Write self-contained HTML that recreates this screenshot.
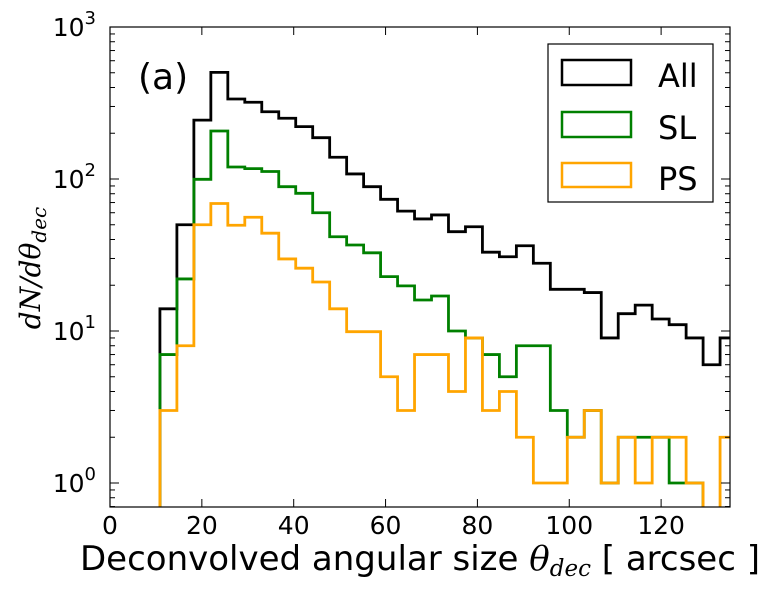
<!DOCTYPE html>
<html><head><meta charset="utf-8"><style>
body{margin:0;background:#fff;}
svg{display:block;font-family:"DejaVu Sans","Liberation Sans",sans-serif;}
</style></head><body>
<svg id="chart" width="771" height="591" viewBox="0 0 771 591">
<defs><clipPath id="plotclip"><rect x="110" y="27" width="620" height="480"/></clipPath></defs>
<rect x="0" y="0" width="771" height="591" fill="#fff"/>
<g id="series" clip-path="url(#plotclip)"></g>
<rect x="110" y="27" width="620" height="480" fill="none" stroke="#000" stroke-width="1.2"/>
<g id="ticks"></g>
<text x="138" y="89" font-size="36">(a)</text>
<g>
<rect x="548" y="44" width="165" height="158" fill="#fff" stroke="#000" stroke-width="1.2"/>
<rect x="562" y="60" width="69" height="25" fill="none" stroke="#000" stroke-width="2.5"/>
<text x="658" y="87" font-size="32">All</text>
<rect x="562" y="112" width="69" height="25" fill="none" stroke="#008000" stroke-width="2.5"/>
<text x="658" y="139" font-size="32">SL</text>
<rect x="562" y="163" width="69" height="24" fill="none" stroke="#FFA500" stroke-width="2.5"/>
<text x="658" y="190" font-size="32">PS</text>
</g>
<text x="420" y="570" font-size="34" text-anchor="middle">Deconvolved angular size <tspan font-family="'DejaVu Serif',serif" font-style="italic">θ</tspan><tspan font-family="'DejaVu Serif',serif" font-style="italic" font-size="23" dy="6">dec</tspan><tspan dy="-6"> [ arcsec ]</tspan></text>
<text transform="translate(40,268) rotate(-90)" font-size="28" text-anchor="middle" font-family="'DejaVu Serif',serif" font-style="italic">dN/dθ<tspan font-size="20" dy="6">dec</tspan></text>
</svg>
<script>
const binStart = 10.87;
const binWidth = 3.696;
const allCounts = [14,50,244,503,336,320,277,251,221,187,139,108,89,73.5,61.5,54.6,58,45,48.5,33,30.8,36.4,27.9,18.8,18.8,17.9,9,13,14.8,12,11,9,6,9];
const slCounts  = [7,22,99.5,207,120,117,112,89,80.5,60,41.7,36.8,32.7,22.8,19.8,16,17,10,9,7,5,8,8,3,2,3,1,2,2,2,1,1,0,0];
const psCounts  = [3,8,50,69,49.6,56,44,29.8,25.9,21,14,9.9,9.9,5,3,7,7,4,9,3,4,2,1,1,2,3,1,2,1,2,2,1,0,2];
const xTicks = [0,20,40,60,80,100,120];
const yTickExps = [0,1,2,3];

const NS = "http://www.w3.org/2000/svg";
function xs(v){return 110 + v*(620/135);}
function ys(v){return v<=0 ? 530 : 483 - 152*Math.log10(v);}

function stepPath(counts){
  let d = "M" + xs(binStart) + "," + 530;
  counts.forEach((c,i)=>{
    const x0 = xs(binStart + i*binWidth), x1 = xs(binStart + (i+1)*binWidth);
    const y = ys(c);
    d += " L" + x0 + "," + y + " L" + x1 + "," + y;
  });
  return d;
}
const sg = document.getElementById("series");
[[allCounts,"#000","series-all"],[slCounts,"#008000","series-sl"],[psCounts,"#FFA500","series-ps"]].forEach(([c,col,nm])=>{
  const p = document.createElementNS(NS,"path");
  p.setAttribute("d", stepPath(c));
  p.setAttribute("fill","none");
  p.setAttribute("stroke",col);
  p.setAttribute("stroke-width","2.8");
  
  
  sg.appendChild(p);
});

const tg = document.getElementById("ticks");
function line(x1,y1,x2,y2){
  const l = document.createElementNS(NS,"line");
  l.setAttribute("x1",x1);l.setAttribute("y1",y1);l.setAttribute("x2",x2);l.setAttribute("y2",y2);
  l.setAttribute("stroke","#000");l.setAttribute("stroke-width","1");
  
  
  tg.appendChild(l);
}
function text(x,y,s,anchor,name){
  const t = document.createElementNS(NS,"text");
  t.setAttribute("x",x);t.setAttribute("y",y);t.setAttribute("font-size","25");
  t.setAttribute("text-anchor",anchor);
  t.textContent = s;
  
  
  tg.appendChild(t);
  return t;
}
xTicks.forEach(v=>{
  const x = xs(v);
  line(x,507,x,499); line(x,27,x,35);
  text(x,534,String(v),"middle","x-tick-label");
});
yTickExps.forEach(e=>{
  const y = ys(Math.pow(10,e));
  line(110,y,119,y); line(730,y,721,y);
  const t = text(96,y+9,"10","end","y-tick-label");
  const s = document.createElementNS(NS,"tspan");
  s.setAttribute("font-size","18");
  s.setAttribute("dy","-12");
  s.textContent = String(e);
  t.appendChild(s);
});
for(let e=-1;e<3;e++){
  for(let m=2;m<10;m++){
    const v = m*Math.pow(10,e);
    const y = ys(v);
    if(y<27||y>507) continue;
    line(110,y,115,y); line(730,y,725,y);
  }
}
</script>
</body></html>
